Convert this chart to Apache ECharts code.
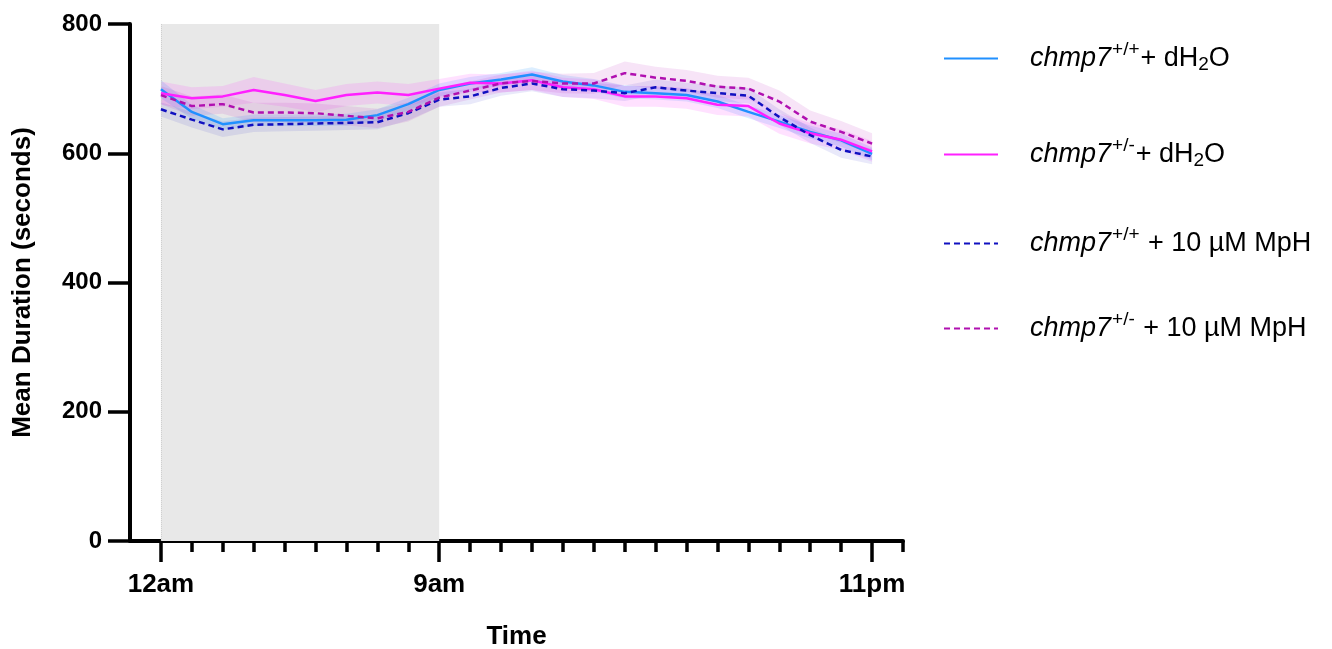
<!DOCTYPE html>
<html>
<head>
<meta charset="utf-8">
<script src="https://cdn.jsdelivr.net/npm/echarts@6/dist/echarts.min.js"></script>
<style>
html, body { margin: 0; padding: 0; background: #fff; }
#chart { width: 1332px; height: 649px; }
</style>
</head>
<body>
<div id="chart"></div>
<script>
// hours 0 (12am) .. 23 (11pm)
var hours = [0, 1, 2, 3, 4, 5, 6, 7, 8, 9, 10, 11, 12, 13, 14, 15, 16, 17, 18, 19, 20, 21, 22, 23];
var tickLabels = { 0: '12am', 9: '9am', 23: '11pm' };

// mean duration (seconds)
var wtH2O  = [699, 664, 645, 651, 651, 651, 652, 659, 676, 698, 708, 714, 722, 711, 705, 695, 693, 690, 680, 664, 649, 633, 620, 599];
var hetH2O = [693, 685, 688, 698, 690, 681, 690, 694, 690, 700, 709, 708, 713, 702, 699, 688, 688, 685, 675, 673, 646, 631, 621, 603];
var wtMpH  = [668, 652, 637, 644, 645, 646, 647, 648, 662, 683, 688, 701, 708, 699, 697, 693, 702, 697, 693, 689, 656, 628, 605, 595];
var hetMpH = [690, 673, 676, 663, 663, 662, 658, 654, 664, 686, 697, 708, 712, 708, 708, 724, 717, 712, 703, 700, 680, 649, 633, 615];

// SEM (seconds)
var wtH2OSem  = [14, 11, 9, 9, 9, 9, 9, 9, 10, 10, 10, 10, 11, 10, 10, 10, 10, 10, 10, 10, 10, 10, 10, 10];
var hetH2OSem = [18, 17, 16, 20, 18, 17, 17, 17, 17, 15, 14, 14, 15, 15, 15, 16, 16, 16, 16, 16, 16, 16, 16, 16];
var wtMpHSem  = [11, 12, 12, 11, 11, 11, 11, 11, 11, 11, 12, 12, 12, 12, 12, 12, 12, 12, 12, 12, 12, 12, 12, 12];
var hetMpHSem = [14, 15, 15, 15, 15, 15, 15, 15, 15, 14, 14, 14, 14, 15, 16, 18, 17, 17, 17, 17, 17, 17, 17, 16];

var groups = [
    { name: 'wtH2O',  mean: wtH2O,  sem: wtH2OSem,  color: '#2090ff', band: 'rgba(40,150,255,0.16)',  dash: 'solid' },
    { name: 'hetH2O', mean: hetH2O, sem: hetH2OSem, color: '#ff20ff', band: 'rgba(255,40,255,0.14)', dash: 'solid' },
    { name: 'wtMpH',  mean: wtMpH,  sem: wtMpHSem,  color: '#1010c0', band: 'rgba(40,40,210,0.10)',  dash: [6, 4] },
    { name: 'hetMpH', mean: hetMpH, sem: hetMpHSem, color: '#b010b0', band: 'rgba(190,30,190,0.12)', dash: [6, 4] }
];

var legendText = {
    wtH2O:  '{i|chmp7}{sup|+/+}{n|+ dH}{sub|2}{n|O}',
    hetH2O: '{i|chmp7}{sup|+/-}{n|+ dH}{sub|2}{n|O}',
    wtMpH:  '{i|chmp7}{sup|+/+}{n| + 10 µM MpH}',
    hetMpH: '{i|chmp7}{sup|+/-}{n| + 10 µM MpH}'
};

var FONT = 'Arial, "Liberation Sans", sans-serif';

var series = [];

// shaded night period
series.push({
    name: 'shade',
    type: 'line',
    data: [[0, 0]],
    symbol: 'none',
    lineStyle: { opacity: 0 },
    silent: true,
    z: 0,
    markArea: {
        silent: true,
        itemStyle: { color: '#e8e8e8' },
        data: [[{ xAxis: 0, yAxis: 0 }, { xAxis: 9, yAxis: 800 }]]
    },
    markLine: {
        silent: true,
        symbol: 'none',
        label: { show: false },
        lineStyle: { color: '#cfcfcf', type: 'dotted', width: 1 },
        data: [{ xAxis: 0 }]
    }
});

// SEM bands
groups.forEach(function (g) {
    series.push({
        name: g.name + '_band',
        type: 'custom',
        silent: true,
        z: 1,
        encode: { x: 0, y: [1, 2] },
        data: hours.map(function (h, i) { return [h, g.mean[i] - g.sem[i], g.mean[i] + g.sem[i]]; }),
        renderItem: function (params, api) {
            if (params.dataIndex !== 0) return null;
            var top = [], bottom = [];
            hours.forEach(function (h, i) {
                top.push(api.coord([h, g.mean[i] + g.sem[i]]));
                bottom.unshift(api.coord([h, g.mean[i] - g.sem[i]]));
            });
            return {
                type: 'polygon',
                shape: { points: top.concat(bottom) },
                style: { fill: g.band, stroke: null }
            };
        }
    });
});

groups.forEach(function (g) {
    series.push({
        name: g.name,
        type: 'line',
        symbol: 'none',
        lineStyle: { color: g.color, width: 2.5, type: g.dash },
        itemStyle: { color: g.color },
        data: hours.map(function (h, i) { return [h, g.mean[i]]; }),
        z: 5
    });
});

var legendTops = [40, 136, 225, 310];
var legends = groups.map(function (g, k) {
    return {
        data: [g.name],
        left: 943,
        top: legendTops[k],
        padding: 0,
        itemWidth: 54,
        itemHeight: 14,
        itemStyle: { opacity: 0 },
        lineStyle: { width: 2 },
        formatter: function (name) { return legendText[name]; },
        textStyle: {
            color: '#000',
            fontFamily: FONT,
            fontSize: 27,
            rich: {
                i: { fontStyle: 'italic', fontSize: 27, fontFamily: FONT, padding: [0, 0, 0, 27] },
                sup: { fontSize: 19, fontFamily: FONT, padding: [0, 1, 18, 1] },
                n: { fontSize: 27, fontFamily: FONT },
                sub: { fontSize: 19, fontFamily: FONT, padding: [12, 0, 0, 0] }
            }
        }
    };
});

var myChart = echarts.init(document.getElementById('chart'));

var option = {
    animation: false,
    backgroundColor: '#fff',
    legend: legends,
    grid: { left: 130, top: 24, width: 773, height: 517, containLabel: false, outerBoundsMode: 'none' },
    xAxis: [{
        type: 'value',
        min: -1,
        max: 24,
        interval: 1,
        name: 'Time',
        nameLocation: 'middle',
        nameGap: 83,
        nameTextStyle: { color: '#000', fontSize: 26, fontWeight: 'bold', fontFamily: FONT },
        axisLine: { show: true, onZero: false, lineStyle: { color: '#000', width: 4 } },
        axisTick: { show: true, length: 11, lineStyle: { color: '#000', width: 3.5 },
            customValues: hours.concat([24]) },
        axisLabel: { show: false },
        splitLine: { show: false }
    }, {
        type: 'value',
        min: -1,
        max: 24,
        position: 'bottom',
        axisLine: { show: false },
        axisTick: { show: true, length: 21, lineStyle: { color: '#000', width: 3.5 },
            customValues: [0, 9, 23] },
        axisLabel: {
            show: true,
            customValues: [0, 9, 23],
            margin: 31,
            color: '#000',
            fontSize: 26,
            fontWeight: 'bold',
            fontFamily: FONT,
            formatter: function (v) { return tickLabels[v] || ''; }
        },
        splitLine: { show: false }
    }],
    yAxis: {
        type: 'value',
        min: 0,
        max: 800,
        interval: 200,
        name: 'Mean Duration (seconds)',
        nameLocation: 'middle',
        nameGap: 94,
        nameTextStyle: { color: '#000', fontSize: 26, fontWeight: 'bold', fontFamily: FONT },
        axisLine: { show: true, onZero: false, lineStyle: { color: '#000', width: 4 } },
        axisTick: { show: true, length: 22, lineStyle: { color: '#000', width: 3.5 } },
        axisLabel: { color: '#000', fontSize: 24, fontWeight: 'bold', fontFamily: FONT, margin: 28 },
        splitLine: { show: false }
    },
    series: series
};

myChart.setOption(option);
window.addEventListener('resize', function () {
    myChart.resize();
});
</script>
</body>
</html>
